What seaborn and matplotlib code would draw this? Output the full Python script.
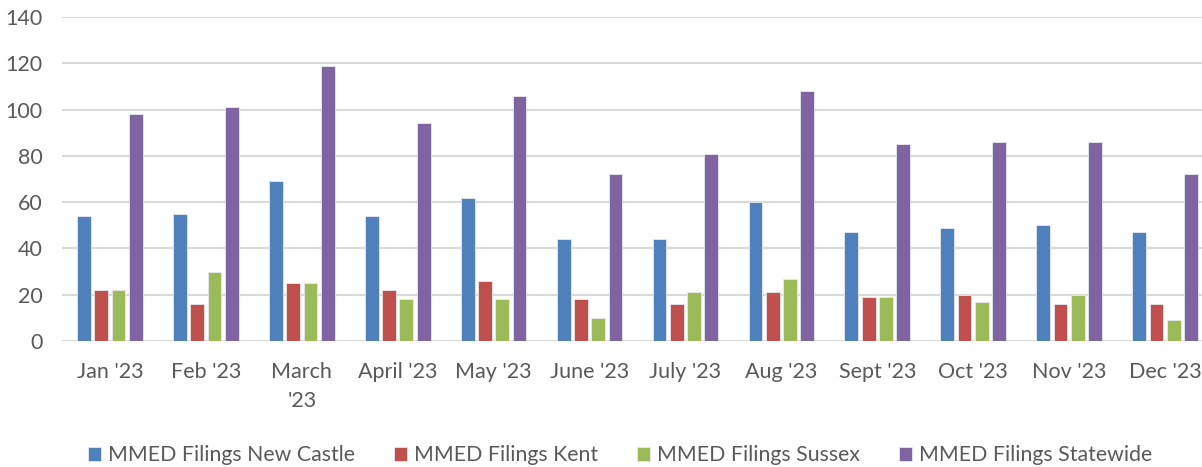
import pandas as pd
import seaborn as sns
import matplotlib.pyplot as plt

months = ["Jan '23", "Feb '23", "March\n'23", "April '23", "May '23", "June '23",
          "July '23", "Aug '23", "Sept '23", "Oct '23", "Nov '23", "Dec '23"]
new_castle = [54, 55, 69, 54, 62, 44, 44, 60, 47, 49, 50, 47]
kent = [22, 16, 25, 22, 26, 18, 16, 21, 19, 20, 16, 16]
sussex = [22, 30, 25, 18, 18, 10, 21, 27, 19, 17, 20, 9]
statewide = [98, 101, 119, 94, 106, 72, 81, 108, 85, 86, 86, 72]

series = ["MMED Filings New Castle", "MMED Filings Kent",
          "MMED Filings Sussex", "MMED Filings Statewide"]
colors = ["#4F81BD", "#C0504D", "#9BBB59", "#8064A2"]

rows = []
for name, vals in zip(series, [new_castle, kent, sussex, statewide]):
    for m, v in zip(months, vals):
        rows.append({"month": m, "series": name, "value": v})
df = pd.DataFrame(rows)

sns.set_style("white")
plt.rcParams['font.family'] = ['Lato', 'DejaVu Sans']
text_color = "#595959"

fig = plt.figure(figsize=(12.02, 4.67), dpi=100)
ax = fig.add_axes([62 / 1202, 126 / 467, 1151 / 1202, 324 / 467])

sns.barplot(data=df, x="month", y="value", hue="series", order=months,
            hue_order=series, palette=colors, width=0.72, gap=0.2,
            saturation=1, edgecolor="#E8E8F0", linewidth=0.6, ax=ax, legend=True)

ax.set_ylim(0, 140)
ax.set_yticks(range(0, 141, 20))
ax.yaxis.grid(True, color="#D9D9D9", linewidth=1.5)
ax.set_axisbelow(True)
for s in ax.spines.values():
    s.set_visible(False)
ax.set_xlabel("")
ax.set_ylabel("")
ax.tick_params(axis="both", length=0, labelsize=15.5, colors=text_color)
ax.tick_params(axis="x", pad=15)
ax.tick_params(axis="y", pad=14)
for lbl in ax.get_xticklabels():
    lbl.set_linespacing(1.6)

handles, labels = ax.get_legend_handles_labels()
ax.get_legend().remove()
fig.legend(handles, labels, loc="center", bbox_to_anchor=(0.516, 0.025),
           ncol=4, frameon=False, fontsize=15.3, labelcolor=text_color,
           handlelength=0.6, handleheight=0.6, handletextpad=0.33,
           columnspacing=1.85)

fig.savefig("out.png", dpi=100)
